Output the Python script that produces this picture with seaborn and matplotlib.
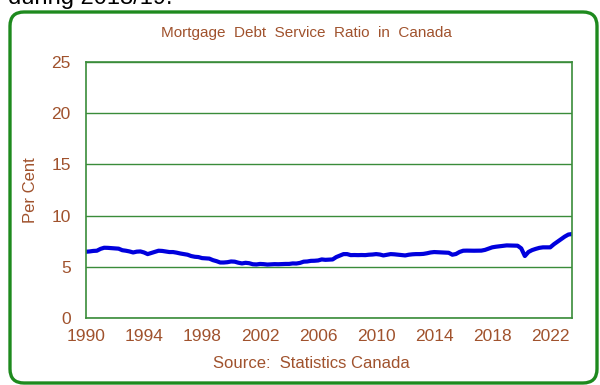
import matplotlib
matplotlib.use("Agg")
import matplotlib.pyplot as plt
import seaborn as sns
import pandas as pd
import numpy as np
from matplotlib.patches import FancyBboxPatch
from matplotlib.ticker import MultipleLocator
from matplotlib.transforms import IdentityTransform

# Mortgage debt service ratio, quarterly (Q1..Q4) per year
years = list(range(1990, 2024))
dsr_by_year = [
    [6.47, 6.50, 6.55, 6.57],  # 1990
    [6.75, 6.86, 6.85, 6.82],
    [6.80, 6.77, 6.62, 6.57],
    [6.50, 6.40, 6.48, 6.50],
    [6.40, 6.24, 6.35, 6.45],
    [6.57, 6.55, 6.50, 6.44],  # 1995
    [6.44, 6.38, 6.30, 6.24],
    [6.18, 6.05, 5.98, 5.95],
    [5.85, 5.83, 5.80, 5.65],
    [5.55, 5.42, 5.42, 5.45],
    [5.52, 5.50, 5.40, 5.33],  # 2000
    [5.39, 5.35, 5.25, 5.23],
    [5.28, 5.26, 5.22, 5.24],
    [5.26, 5.25, 5.27, 5.28],
    [5.28, 5.33, 5.32, 5.38],
    [5.50, 5.52, 5.58, 5.59],  # 2005
    [5.62, 5.72, 5.68, 5.70],
    [5.72, 5.95, 6.10, 6.24],
    [6.24, 6.14, 6.15, 6.14],
    [6.15, 6.14, 6.18, 6.20],
    [6.24, 6.20, 6.11, 6.18],  # 2010
    [6.24, 6.22, 6.18, 6.13],
    [6.11, 6.18, 6.22, 6.24],
    [6.24, 6.26, 6.32, 6.40],
    [6.44, 6.42, 6.40, 6.38],
    [6.37, 6.18, 6.25, 6.45],  # 2015
    [6.57, 6.58, 6.57, 6.57],
    [6.57, 6.58, 6.65, 6.78],
    [6.90, 6.96, 7.00, 7.05],
    [7.09, 7.08, 7.06, 7.06],
    [6.80, 6.05, 6.45, 6.63],  # 2020
    [6.75, 6.85, 6.90, 6.90],
    [6.90, 7.20, 7.45, 7.70],
    [7.95, 8.15, 8.20],
]
year_ticks = [1990, 1994, 1998, 2002, 2006, 2010, 2014, 2018, 2022]
y_ticks = [0, 5, 10, 15, 20, 25]

rows = []
for yr, vals in zip(years, dsr_by_year):
    for q, v in enumerate(vals):
        rows.append({"date": yr + q / 4, "ratio": v})
df = pd.DataFrame(rows)

brown = "#A0522D"
green = "#3A8C3A"

sns.set_style("white")
plt.rcParams["font.family"] = ["Liberation Sans", "DejaVu Sans"]

fig = plt.figure(figsize=(6, 3.85), dpi=100)
ax = fig.add_axes([86 / 600, 1 - 318 / 385, 486 / 600, 256 / 385])

sns.lineplot(data=df, x="date", y="ratio", ax=ax, color="#0000DD", linewidth=3)

ax.set_xlim(1990, 2023.5)
ax.set_ylim(0, 25)
ax.set_xticks(year_ticks)
ax.set_xticklabels([str(y) for y in year_ticks])
ax.set_yticks(y_ticks)
ax.xaxis.set_minor_locator(MultipleLocator(0.25))
ax.tick_params(axis="x", which="both", direction="in", length=4, width=0.8,
               color=green, pad=8, labelsize=12.5, labelcolor=brown)
ax.tick_params(axis="y", length=0, pad=11, labelsize=12.5, labelcolor=brown)
ax.grid(axis="y", color=green, linewidth=1)
ax.grid(axis="x", visible=False)
for s in ax.spines.values():
    s.set_color(green)
    s.set_linewidth(1.2)

ax.set_xlabel("")
ax.set_ylabel("Per Cent", color=brown, fontsize=12)
ax.yaxis.set_label_coords(-0.099, 0.5)

fig.text(306 / 600, 1 - 33 / 385, "Mortgage  Debt  Service  Ratio  in  Canada",
         ha="center", va="center", color=brown, fontsize=11)
fig.text(311 / 600, 1 - 364 / 385, "Source:  Statistics Canada",
         ha="center", va="center", color=brown, fontsize=12)
fig.text(8 / 600, 1 - 4 / 385, "during 2018/19.", ha="left", va="baseline",
         color="black", fontsize=17)

box = FancyBboxPatch((10, 2), 587, 371, boxstyle="round,pad=0,rounding_size=14",
                     transform=IdentityTransform(), fill=False,
                     edgecolor="#1E8A1E", linewidth=2.4)
fig.add_artist(box)

fig.savefig("out.png", dpi=100)
